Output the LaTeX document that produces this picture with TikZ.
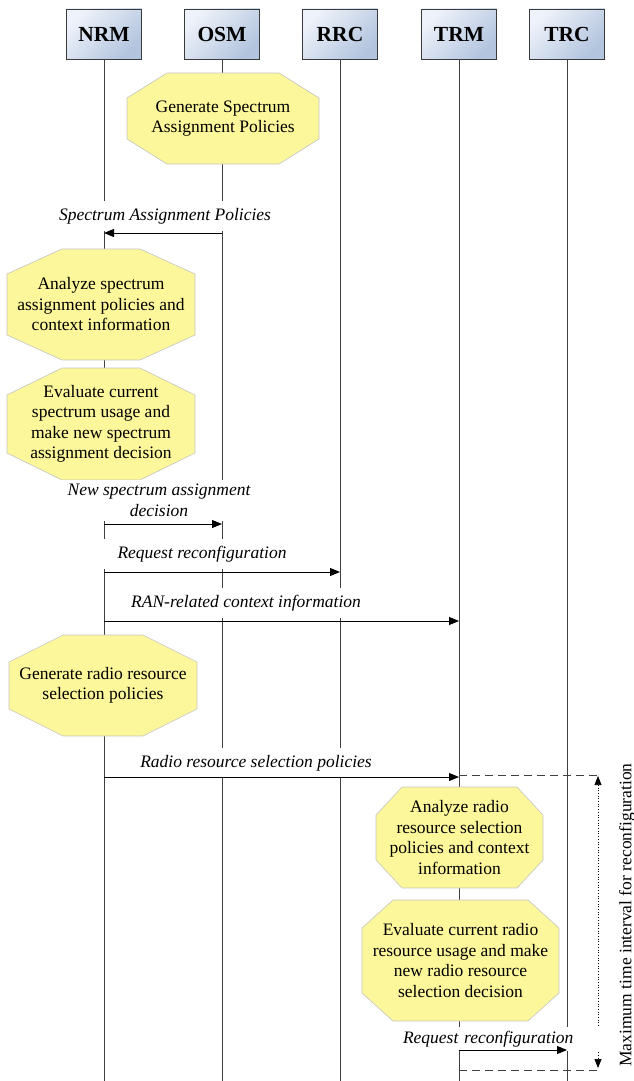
\documentclass[tikz,border=0pt]{standalone}
\usepackage{fontspec}
\setmainfont{Liberation Serif}
\usetikzlibrary{positioning, arrows.meta, calc}
\definecolor{hdrlight}{HTML}{EEF2FA}
\definecolor{hdrdark}{HTML}{B2C4DE}
\definecolor{hdrline}{HTML}{3A3A3A}
\definecolor{actfill}{HTML}{FCF79A}
\definecolor{actline}{HTML}{C4C4C4}
\definecolor{lifegray}{HTML}{404040}

% action: name, x, y, width, height, chamfer x, chamfer y, text
\newcommand{\action}[8]{%
  \coordinate (#1) at (#2,#3);
  \filldraw[actshape] ($(#1)+(-#4/2+#6,-#5/2)$) -- ++(#4-2*#6,0) -- ++(#6,#7)
    -- ++(0,#5-2*#7) -- ++(-#6,#7) -- ++(-#4+2*#6,0) -- ++(-#6,-#7)
    -- ++(0,-#5+2*#7) -- cycle;
  \node[acttext] (#1txt) at (#1) {#8};}

\begin{document}
\begin{tikzpicture}[
      x=1pt, y=-1pt,
      every node/.style={font=\fontsize{17.5}{20.5}\selectfont},
      entity/.style={draw=hdrline, line width=0.8pt,
                     top color=hdrlight, bottom color=hdrdark, shading angle=45,
                     minimum width=75pt, minimum height=50pt,
                     font=\fontsize{21.5}{24}\selectfont\bfseries},
      life/.style={draw=lifegray, line width=0.8pt},
      actshape/.style={draw=actline, fill=actfill, line width=0.6pt},
      acttext/.style={align=center, inner sep=0pt},
      msglbl/.style={fill=white, inner xsep=10pt, inner ysep=7pt, align=center,
                     font=\fontsize{17.5}{20.5}\selectfont\itshape},
      msg/.style={-{Triangle[length=10pt, width=8pt]}, line width=0.9pt},
      bound/.style={draw=lifegray, line width=0.8pt, dash pattern=on 8pt off 5pt},
      span/.style={{Triangle[length=9pt, width=7pt]}-{Triangle[length=9pt, width=7pt]},
                   line width=0.7pt, dotted},
    ]
    \useasboundingbox (0,0) rectangle (634,1081);

    % Lifeline headers
    \node[entity] (nrm) at (104,34) {NRM};
    \node[entity] (osm) at (222,34) {OSM};
    \node[entity] (rrc) at (340,34) {RRC};
    \node[entity] (trm) at (459,34) {TRM};
    \node[entity] (trc) at (567,34) {TRC};

    % Message rows and bounds
    \coordinate (bottom) at (0,1081);
    \coordinate (r1) at (0,233);
    \coordinate (r2) at (0,524);
    \coordinate (r3) at (0,572);
    \coordinate (r4) at (0,621);
    \coordinate (r5) at (0,777);
    \coordinate (r6) at (0,1050);
    \coordinate (tb) at (600,775);
    \coordinate (bb) at (597,1070);
    \coordinate (spantop) at (598,776);
    \coordinate (spanbot) at (598,1068);

    % Lifelines
    \foreach \e in {nrm,osm,rrc,trm,trc}
      \draw[life] (\e.south) -- (\e |- bottom);

    % Reconfiguration interval
    \draw[span] (spantop) -- (spanbot);
    \node[rotate=90] (maxint) at (627,915) {Maximum time interval for reconfiguration};

    % Actions
    \action{gensap}{223}{118.5}{192}{91}{40}{25}
      {Generate Spectrum\\Assignment Policies}
    \action{anlsap}{101}{304.5}{188}{111}{55}{25}
      {Analyze spectrum\\assignment policies and\\context information}
    \action{evalsap}{101}{424}{188}{112}{55}{27}
      {Evaluate current\\spectrum usage and\\make new spectrum\\assignment decision}
    \action{genrrp}{103}{685.5}{188}{101}{54}{27}
      {Generate radio resource\\selection policies}
    \action{anlrrp}{459.5}{837.5}{167}{101}{26}{28}
      {Analyze radio\\resource selection\\policies and context\\information}
    \action{evalrrp}{460.5}{960.5}{197}{121}{31}{28}
      {Evaluate current radio\\resource usage and make\\new radio resource\\selection decision}

    % Message labels
    \node[msglbl] (m1) at (165,216) {Spectrum Assignment Policies};
    \node[msglbl, inner ysep=4pt] (m2) at (159,500.5) {New spectrum assignment\\decision};
    \node[msglbl, inner xsep=14pt] (m3) at (202,554) {Request reconfiguration};
    \node[msglbl] (m4) at (246,603) {RAN-related context information};
    \node[msglbl] (m5) at (256,763) {Radio resource selection policies};
    \node[msglbl, inner ysep=4pt, text width=194pt, align=left] (m6) at (500,1039)
      {Request reconfiguration};

    % Messages
    \draw[msg] (osm |- r1) -- (nrm |- r1);
    \draw[msg] (nrm |- r2) -- (osm |- r2);
    \draw[msg] (nrm |- r3) -- (rrc |- r3);
    \draw[msg] (nrm |- r4) -- (trm |- r4);
    \draw[msg] (nrm |- r5) -- (trm |- r5);
    \draw[msg] (trm |- r6) -- (trc |- r6);

    \draw[bound] (trm |- tb) -- (tb);
    \draw[bound] (trm |- bb) -- (bb);
  \end{tikzpicture}
\end{document}
